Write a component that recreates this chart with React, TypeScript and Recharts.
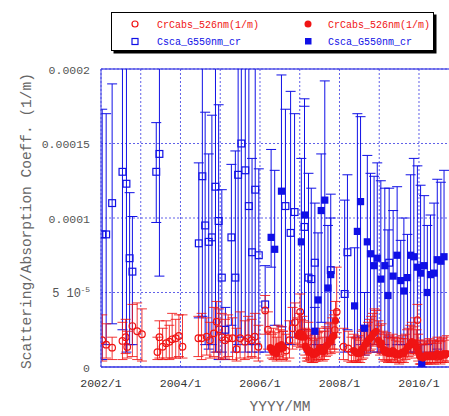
import React from "react";
import {
  ScatterChart,
  Scatter,
  XAxis,
  YAxis,
  CartesianGrid,
  ErrorBar,
  ReferenceLine,
  Legend,
} from "recharts";

// rows: [decimal year, value, lower bound, upper bound]; values in 1e-5 (1/m)
const cscaOpen = [
  [2002.03, 8.9, 0.5, 17.3],
  [2002.13, 8.9, 1.5, 17.0],
  [2002.28, 11.0, 2.9, 19.0],
  [2002.54, 13.1, 2.5, 25],
  [2002.64, 12.3, 1.0, 25],
  [2002.72, 7.3, 1.5, 11.7],
  [2002.79, 6.4, 1.5, 10.1],
  [2003.39, 13.1, 9.7, 16.4],
  [2003.47, 14.3, 6.1, 25],
  [2004.46, 8.3, 3.3, 13.7],
  [2004.55, 12.8, 3.4, 25],
  [2004.62, 9.5, 1.5, 17.1],
  [2004.71, 8.4, 1.2, 14.3],
  [2004.79, 8.7, 1.5, 16.9],
  [2004.88, 12.1, 1.0, 25],
  [2004.96, 9.8, 0.5, 17.6],
  [2005.04, 6.0, 1.0, 11.9],
  [2005.13, 2.5, 0.5, 4.0],
  [2005.28, 8.7, 2.8, 13.6],
  [2005.38, 6.0, 1.0, 14.5],
  [2005.45, 12.9, 1.5, 25],
  [2005.53, 15.0, 2.0, 25],
  [2005.63, 13.2, 1.0, 25],
  [2005.72, 10.8, 1.5, 25],
  [2005.8, 7.7, 1.0, 14.0],
  [2005.88, 11.9, 1.5, 25],
  [2005.97, 7.5, 1.0, 13.3],
  [2006.13, 4.2, 1.0, 6.8],
  [2006.64, 10.8, 1.5, 17.3],
  [2006.77, 9.0, 1.5, 18.5],
  [2006.87, 10.4, 2.0, 17.0],
  [2007.12, 9.4, 2.0, 18.0],
  [2007.22, 6.0, 1.0, 13.0],
  [2007.29, 5.9, 1.0, 12.0],
  [2007.38, 7.0, 1.5, 11.0],
  [2007.78, 6.5, 1.5, 10.0],
  [2008.13, 4.9, 1.0, 11.2],
  [2008.2, 7.7, 2.5, 12.9],
  [2009.25, 7.0, 2.0, 12.0],
];

const cscaFilled = [
  [2006.28, 8.7, 6.7, 14.6],
  [2006.37, 7.9, 2.8, 13.2],
  [2006.54, 11.8, 2.7, 19.6],
  [2007.04, 8.4, 2.0, 14.0],
  [2007.12, 10.2, 2.5, 17.5],
  [2007.38, 2.4, 1.0, 4.0],
  [2007.46, 4.5, 1.5, 9.0],
  [2007.54, 10.5, 3.0, 14.3],
  [2007.63, 11.2, 1.5, 19.2],
  [2007.71, 5.3, 1.5, 9.5],
  [2007.78, 6.2, 2.0, 11.6],
  [2008.38, 4.1, 1.0, 8.0],
  [2008.45, 9.1, 2.0, 17.0],
  [2008.53, 11.1, 1.5, 16.8],
  [2008.63, 2.6, 0.8, 5.0],
  [2008.7, 8.4, 1.5, 14.2],
  [2008.78, 7.6, 1.0, 13.0],
  [2008.87, 6.8, 1.5, 12.8],
  [2008.95, 7.3, 1.0, 13.7],
  [2009.04, 5.9, 1.0, 12.5],
  [2009.14, 6.8, 1.5, 12.0],
  [2009.22, 4.8, 1.0, 9.2],
  [2009.35, 6.1, 1.0, 10.5],
  [2009.45, 7.5, 1.5, 12.1],
  [2009.54, 5.8, 1.5, 8.5],
  [2009.62, 5.1, 1.5, 10.0],
  [2009.71, 6.0, 1.5, 8.9],
  [2009.79, 7.5, 1.0, 12.9],
  [2009.87, 7.4, 1.0, 14.0],
  [2009.96, 6.7, 1.5, 13.5],
  [2010.04, 6.3, 1.0, 12.2],
  [2010.07, 0.2, 0.0, 1.5],
  [2010.13, 6.8, 0.5, 11.5],
  [2010.21, 5.0, 1.5, 9.5],
  [2010.29, 6.2, 1.0, 10.2],
  [2010.38, 6.3, 1.0, 11.0],
  [2010.46, 7.2, 1.2, 12.6],
  [2010.55, 7.1, 1.0, 12.4],
  [2010.63, 7.4, 1.0, 13.2],
];

const cabsOpen = [
  [2002.03, 1.8, 0.4, 3.5],
  [2002.13, 1.5, 0.6, 2.9],
  [2002.28, 1.3, 0.5, 2.0],
  [2002.54, 1.75, 0.5, 3.0],
  [2002.62, 2.0, 0.9, 3.2],
  [2002.66, 1.35, 0.6, 2.4],
  [2002.79, 2.75, 0.7, 4.2],
  [2002.91, 2.4, 0.5, 4.3],
  [2003.03, 2.2, 0.4, 3.9],
  [2003.42, 1.0, 0.5, 2.0],
  [2003.47, 2.0, 0.6, 3.1],
  [2003.55, 1.36, 0.5, 2.6],
  [2003.64, 1.6, 0.6, 3.1],
  [2003.72, 1.7, 0.5, 2.8],
  [2003.79, 1.86, 0.6, 3.6],
  [2003.88, 1.93, 0.6, 3.2],
  [2003.96, 2.08, 0.7, 3.5],
  [2004.05, 1.36, 0.6, 3.5],
  [2004.45, 1.93, 0.7, 3.4],
  [2004.53, 1.93, 0.5, 3.6],
  [2004.66, 2.03, 0.8, 3.3],
  [2004.74, 1.8, 0.6, 3.0],
  [2004.84, 2.26, 0.7, 4.0],
  [2004.91, 3.04, 1.0, 4.4],
  [2004.97, 2.53, 0.6, 3.9],
  [2005.04, 2.0, 0.5, 3.6],
  [2005.12, 1.8, 0.6, 3.2],
  [2005.2, 1.93, 0.7, 3.5],
  [2005.31, 1.93, 0.5, 3.3],
  [2005.41, 1.19, 0.4, 2.6],
  [2005.5, 1.93, 0.6, 3.7],
  [2005.62, 1.7, 0.5, 3.1],
  [2005.7, 1.93, 0.6, 3.4],
  [2005.79, 1.8, 0.7, 3.2],
  [2005.87, 2.03, 0.6, 3.6],
  [2005.96, 1.36, 0.4, 2.8],
  [2006.13, 3.8, 2.2, 4.8],
  [2006.2, 2.5, 1.2, 3.7],
  [2006.58, 1.3, 0.5, 2.4],
  [2006.66, 1.1, 0.4, 2.2],
  [2006.74, 1.8, 0.6, 3.1],
  [2006.82, 2.6, 1.2, 4.0],
  [2006.88, 3.0, 1.6, 4.3],
  [2007.01, 3.7, 2.0, 4.9],
  [2007.18, 1.25, 0.4, 2.5],
  [2007.22, 1.7, 0.6, 3.0],
  [2007.88, 2.48, 1.0, 3.8],
  [2007.93, 3.7, 2.3, 6.7],
  [2008.1, 1.36, 0.5, 2.6],
  [2008.22, 1.25, 0.4, 2.4],
  [2008.3, 1.0, 0.3, 2.0],
  [2009.96, 3.15, 1.8, 4.2],
  [2010.04, 0.7, 0.2, 1.5],
  [2010.45, 0.7, 0.3, 1.6],
];

const cabsFilled = [
  [2006.26, 1.3, 0.8, 2.4],
  [2006.3, 1.1, 0.6, 2.2],
  [2006.34, 1.0, 0.5, 2.6],
  [2006.38, 1.2, 0.6, 2.3],
  [2006.42, 0.9, 0.4, 2.0],
  [2006.46, 1.4, 0.7, 2.8],
  [2006.5, 1.2, 0.5, 2.5],
  [2006.54, 1.5, 0.8, 2.7],
  [2006.58, 1.3, 0.6, 2.4],
  [2006.95, 2.1, 1.4, 3.3],
  [2006.99, 2.3, 1.5, 3.6],
  [2007.03, 2.0, 1.3, 3.2],
  [2007.07, 2.2, 1.4, 3.4],
  [2007.11, 2.0, 1.2, 3.1],
  [2007.14, 1.4, 0.8, 2.6],
  [2007.18, 1.2, 0.6, 2.4],
  [2007.22, 1.0, 0.4, 2.1],
  [2007.26, 1.1, 0.5, 2.5],
  [2007.3, 0.9, 0.3, 2.0],
  [2007.34, 0.8, 0.3, 1.8],
  [2007.38, 1.0, 0.4, 2.2],
  [2007.42, 0.9, 0.4, 1.9],
  [2007.46, 1.1, 0.5, 2.3],
  [2007.5, 1.3, 0.6, 2.6],
  [2007.54, 1.2, 0.5, 2.4],
  [2007.58, 1.0, 0.4, 2.0],
  [2007.62, 1.1, 0.5, 2.4],
  [2007.66, 1.4, 0.7, 2.7],
  [2007.7, 1.5, 0.8, 2.6],
  [2007.74, 1.8, 1.0, 2.9],
  [2007.78, 1.7, 0.9, 3.0],
  [2007.82, 2.0, 1.2, 3.3],
  [2007.86, 2.1, 1.2, 3.5],
  [2007.9, 3.1, 2.0, 4.4],
  [2008.36, 1.1, 0.4, 2.2],
  [2008.4, 1.0, 0.4, 2.0],
  [2008.44, 0.9, 0.3, 1.9],
  [2008.48, 1.0, 0.4, 2.1],
  [2008.52, 0.9, 0.3, 1.8],
  [2008.56, 1.2, 0.5, 2.4],
  [2008.6, 1.3, 0.6, 2.5],
  [2008.64, 1.5, 0.8, 2.7],
  [2008.68, 1.6, 0.9, 2.8],
  [2008.72, 1.8, 1.0, 3.0],
  [2008.76, 1.9, 1.1, 3.2],
  [2008.8, 2.0, 1.2, 3.4],
  [2008.84, 2.2, 1.4, 3.6],
  [2008.88, 2.3, 1.5, 3.9],
  [2008.92, 2.4, 1.6, 3.8],
  [2008.98, 1.8, 1.0, 3.1],
  [2009.02, 1.5, 0.8, 2.8],
  [2009.06, 1.6, 0.9, 2.9],
  [2009.1, 1.2, 0.5, 2.4],
  [2009.14, 1.0, 0.4, 2.2],
  [2009.18, 1.1, 0.4, 2.3],
  [2009.22, 0.9, 0.3, 2.0],
  [2009.26, 1.0, 0.4, 2.1],
  [2009.3, 0.9, 0.3, 1.9],
  [2009.34, 1.1, 0.5, 2.2],
  [2009.38, 1.0, 0.4, 2.0],
  [2009.42, 0.8, 0.3, 1.8],
  [2009.46, 0.9, 0.3, 2.0],
  [2009.5, 0.8, 0.2, 1.7],
  [2009.54, 0.9, 0.3, 1.9],
  [2009.58, 1.0, 0.4, 2.1],
  [2009.62, 0.9, 0.3, 1.9],
  [2009.66, 1.1, 0.5, 2.2],
  [2009.7, 1.3, 0.6, 2.5],
  [2009.74, 1.4, 0.7, 2.6],
  [2009.78, 1.6, 0.9, 2.8],
  [2009.82, 1.7, 1.0, 3.0],
  [2009.86, 1.5, 0.8, 2.7],
  [2009.9, 1.6, 0.9, 3.3],
  [2009.94, 1.3, 0.6, 2.5],
  [2009.98, 1.0, 0.4, 2.2],
  [2010.02, 0.8, 0.2, 1.8],
  [2010.06, 0.7, 0.2, 1.6],
  [2010.1, 0.6, 0.2, 1.5],
  [2010.14, 0.7, 0.2, 1.7],
  [2010.18, 0.8, 0.3, 1.8],
  [2010.22, 0.7, 0.2, 1.6],
  [2010.26, 0.8, 0.3, 1.9],
  [2010.3, 0.7, 0.2, 1.6],
  [2010.34, 0.8, 0.3, 1.8],
  [2010.38, 0.7, 0.2, 1.7],
  [2010.42, 0.8, 0.3, 1.8],
  [2010.46, 0.9, 0.3, 2.0],
  [2010.5, 0.8, 0.3, 1.8],
  [2010.54, 0.7, 0.2, 1.7],
  [2010.58, 0.8, 0.3, 1.9],
  [2010.62, 0.9, 0.4, 2.0],
  [2010.66, 0.8, 0.3, 1.8],
  [2010.7, 0.9, 0.4, 2.1],
];

const yTicks = [0, 5, 10, 15, 20];
const yTickLabels = ["0", "5 10", "0.0001", "0.00015", "0.0002"];
const xTicks = [2002, 2003, 2004, 2005, 2006, 2007, 2008, 2009, 2010];
const xTickLabels = ["2002/1", "", "2004/1", "", "2006/1", "", "2008/1", "", "2010/1"];

const RED = "#f01414";
const BLUE = "#1010e6";
const AXIS = "#3a3ae4";
const MONO = "'Liberation Mono', 'DejaVu Sans Mono', monospace";
const CLIP = "url(#plot-clip)";

const toRows = (rows: number[][]) =>
  rows.map(([x, y, lo, hi]) => ({ x, y, err: [y - lo, hi - y] }));

const OpenCircle = (p: any) => (
  <circle cx={p.cx} cy={p.cy} r={3.3} fill="none" stroke={RED} strokeWidth={1.2} />
);
const FilledCircle = (p: any) => <circle cx={p.cx} cy={p.cy} r={3.6} fill={RED} />;
const OpenSquare = (p: any) => (
  <rect x={p.cx - 3.4} y={p.cy - 3.4} width={6.8} height={6.8} fill="none" stroke={BLUE} strokeWidth={1.2} />
);
const FilledSquare = (p: any) => (
  <rect x={p.cx - 3.6} y={p.cy - 3.6} width={7.2} height={7.2} fill={BLUE} />
);

function YTick({ x, y, payload }: any) {
  const label = yTickLabels[yTicks.indexOf(payload.value)];
  if (payload.value === 5) {
    return (
      <g fontFamily={MONO} fill="#555">
        <text x={x - 9} y={y + 4.5} textAnchor="end" fontSize={12}>
          5 10
        </text>
        <text x={x} y={y - 0.5} textAnchor="end" fontSize={8}>
          -5
        </text>
      </g>
    );
  }
  return (
    <text x={x} y={y + 4.5} textAnchor="end" fontFamily={MONO} fontSize={11.5} fill="#555">
      {label}
    </text>
  );
}

function XTick({ x, payload }: any) {
  const label = xTickLabels[xTicks.indexOf(payload.value)];
  if (!label) return null;
  return (
    <text x={x} y={387} textAnchor="middle" fontFamily={MONO} fontSize={11.5} fill="#333">
      {label}
    </text>
  );
}

const YTitle = () => (
  <text
    transform="translate(31,221) rotate(-90)"
    textAnchor="middle"
    fontFamily={MONO}
    fontSize={14.5}
    fill="#666"
  >
    Scattering/Absorption Coeff. (1/m)
  </text>
);

const XTitle = () => (
  <text x={280} y={411} textAnchor="middle" fontFamily={MONO} fontSize={14.5} fill="#666">
    YYYY/MM
  </text>
);

function LegendBox() {
  const t = { fontFamily: MONO, fontSize: 10 };
  return (
    <svg width={338} height={44} style={{ display: "block" }}>
      <rect x={2.5} y={2.5} width={323} height={39} fill="#000" />
      <rect x={0.5} y={0.5} width={322} height={38} fill="#fff" stroke="#000" />
      <circle cx={24} cy={12} r={3} fill="none" stroke={RED} strokeWidth={1.2} />
      <text x={46} y={15.5} fill={RED} {...t}>CrCabs_526nm(1/m)</text>
      <circle cx={197} cy={12} r={3.5} fill={RED} />
      <text x={217} y={15.5} fill={RED} {...t}>CrCabs_526nm(1/m)</text>
      <rect x={21} y={26.5} width={6} height={6} fill="none" stroke={BLUE} strokeWidth={1.2} />
      <text x={46} y={33} fill={BLUE} {...t}>Csca_G550nm_cr</text>
      <rect x={194} y={26} width={6.5} height={6.5} fill={BLUE} />
      <text x={217} y={33} fill={BLUE} {...t}>Csca_G550nm_cr</text>
    </svg>
  );
}

export default function App() {
  return (
    <div style={{ position: "absolute", left: 0, top: 0 }}>
      <style>{`.recharts-errorBar, .recharts-errorBars { clip-path: ${CLIP}; }`}</style>
      <svg width={0} height={0} style={{ position: "absolute" }}>
        <defs>
          <clipPath id="plot-clip" clipPathUnits="userSpaceOnUse">
            <rect x={101} y={69} width={348} height={299} />
          </clipPath>
        </defs>
      </svg>
      <ScatterChart width={449} height={416} margin={{ top: 69, right: 0, bottom: 0, left: 0 }}>
        <CartesianGrid
          stroke={AXIS}
          strokeDasharray="2 2"
          strokeOpacity={0.8}
          horizontalValues={yTicks}
          verticalValues={xTicks}
        />
        <XAxis
          type="number"
          dataKey="x"
          domain={[2002, 2010.755]}
          allowDataOverflow
          ticks={xTicks}
          interval={0}
          tick={<XTick />}
          tickLine={false}
          tickSize={0}
          tickMargin={10}
          height={49}
          axisLine={{ stroke: AXIS, strokeWidth: 1.5 }}
          label={<XTitle />}
        />
        <YAxis
          type="number"
          dataKey="y"
          domain={[0, 20]}
          allowDataOverflow
          ticks={yTicks}
          interval={0}
          tick={<YTick />}
          tickLine={false}
          tickSize={0}
          tickMargin={11}
          width={101}
          axisLine={{ stroke: AXIS }}
          label={<YTitle />}
        />
        <ReferenceLine y={20} stroke={AXIS} strokeWidth={1.5} strokeOpacity={0.8} />
        <Legend
          layout="vertical"
          align="center"
          verticalAlign="middle"
          wrapperStyle={{ position: "absolute", left: 111, top: 12, width: 338, height: 44 }}
          content={() => <LegendBox />}
        />
        <Scatter data={toRows(cscaOpen)} shape={OpenSquare} isAnimationActive={false}>
          <ErrorBar dataKey="err" direction="y" width={5} stroke={BLUE} strokeWidth={1} clipPath={CLIP} isAnimationActive={false} />
        </Scatter>
        <Scatter data={toRows(cscaFilled)} shape={FilledSquare} isAnimationActive={false}>
          <ErrorBar dataKey="err" direction="y" width={5} stroke={BLUE} strokeWidth={1} clipPath={CLIP} isAnimationActive={false} />
        </Scatter>
        <Scatter data={toRows(cabsOpen)} shape={OpenCircle} isAnimationActive={false}>
          <ErrorBar dataKey="err" direction="y" width={5} stroke={RED} strokeWidth={1} strokeOpacity={0.85} clipPath={CLIP} isAnimationActive={false} />
        </Scatter>
        <Scatter data={toRows(cabsFilled)} shape={FilledCircle} isAnimationActive={false}>
          <ErrorBar dataKey="err" direction="y" width={5} stroke={RED} strokeWidth={1} strokeOpacity={0.85} clipPath={CLIP} isAnimationActive={false} />
        </Scatter>
      </ScatterChart>
    </div>
  );
}
